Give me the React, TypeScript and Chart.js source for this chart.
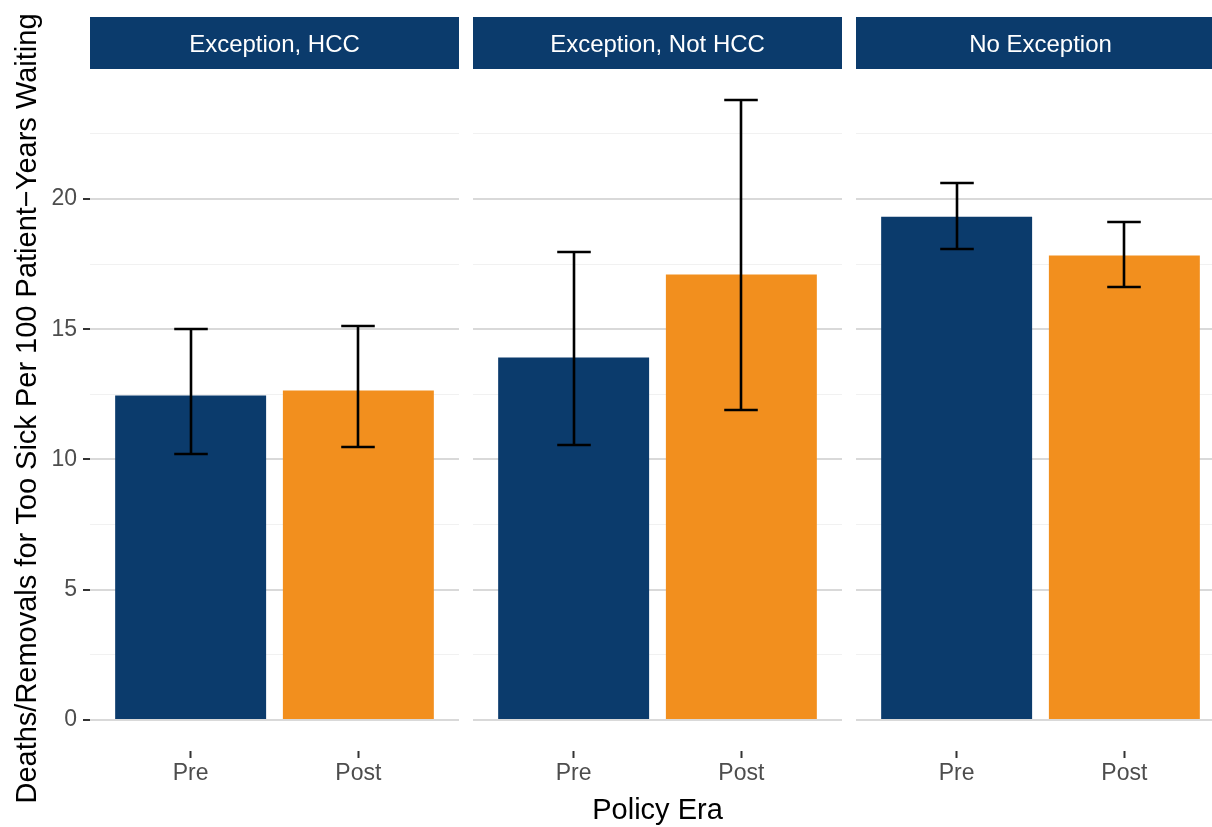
import React, { useEffect, useRef } from "react";
import { Chart, registerables } from "chart.js";

Chart.register(...registerables);

// ---- data ----
const facetLabels = ["Exception, HCC", "Exception, Not HCC", "No Exception"];
const eraLabels = ["Pre", "Post"];
const hccRates = [12.46, 12.65];
const hccLower = [10.22, 10.47];
const hccUpper = [15.02, 15.14];
const notHccRates = [13.92, 17.1];
const notHccLower = [10.57, 11.91];
const notHccUpper = [17.98, 23.8];
const noExcRates = [19.32, 17.83];
const noExcLower = [18.07, 16.63];
const noExcUpper = [20.61, 19.12];
const majorTicks = [0, 5, 10, 15, 20];
const minorTicks = [2.5, 7.5, 12.5, 17.5, 22.5];

const rates = [hccRates, notHccRates, noExcRates];
const lowers = [hccLower, notHccLower, noExcLower];
const uppers = [hccUpper, notHccUpper, noExcUpper];

const yTitle = "Deaths/Removals for Too Sick Per 100 Patient\u2212Years Waiting";
const xTitle = "Policy Era";

// ---- style ----
const NAVY = "#0B3B6C";
const ORANGE = "#F28F1E";
const eraColors = [NAVY, ORANGE];
const FONT = "'Liberation Sans', Arial, Helvetica, sans-serif";
const CAP_WIDTH = 0.2;

const maxUpper = Math.max(...uppers.flat());
const yMax = maxUpper * 1.05;
const yMin = -maxUpper * 0.05;

const allYTicks = [...majorTicks, ...minorTicks].sort((a, b) => a - b);
const isMajor = (v: number | undefined) => v !== undefined && majorTicks.includes(v);

type PanelProps = { idx: number; left: number; width: number; showY: boolean; showXTitle: boolean };

function Panel({ idx, left, width, showY, showXTitle }: PanelProps) {
  const ref = useRef<HTMLCanvasElement>(null);

  useEffect(() => {
    if (!ref.current) return;

    const stripPlugin = {
      id: "strip",
      afterDraw(chart: any) {
        const { ctx, chartArea } = chart;
        ctx.save();
        ctx.fillStyle = NAVY;
        ctx.fillRect(chartArea.left, 17, chartArea.right - chartArea.left, 52);
        ctx.fillStyle = "#FFFFFF";
        ctx.font = `24px ${FONT}`;
        ctx.textAlign = "center";
        ctx.textBaseline = "alphabetic";
        ctx.fillText(facetLabels[idx], (chartArea.left + chartArea.right) / 2, 51.5);
        if (showY) {
          ctx.fillStyle = "#000000";
          ctx.font = `29px ${FONT}`;
          ctx.translate(36, (chartArea.top + chartArea.bottom) / 2 - 1.5);
          ctx.rotate(-Math.PI / 2);
          ctx.textAlign = "center";
          ctx.textBaseline = "alphabetic";
          ctx.fillText(yTitle, 0, 0);
        }
        ctx.restore();
      },
    };

    const errorPlugin = {
      id: "errorbars",
      afterDatasetsDraw(chart: any) {
        const xs = chart.scales.x;
        const ys = chart.scales.y;
        const ctx = chart.ctx;
        ctx.save();
        ctx.strokeStyle = "#000000";
        ctx.lineWidth = 2.6;
        const half = Math.abs(xs.getPixelForValue(1 + CAP_WIDTH / 2) - xs.getPixelForValue(1));
        lowers[idx].forEach((lo, i) => {
          const x = Math.round(xs.getPixelForValue(i + 1));
          const yl = Math.round(ys.getPixelForValue(lo));
          const yu = Math.round(ys.getPixelForValue(uppers[idx][i]));
          ctx.beginPath();
          ctx.moveTo(x, yl);
          ctx.lineTo(x, yu);
          ctx.moveTo(x - half, yl);
          ctx.lineTo(x + half, yl);
          ctx.moveTo(x - half, yu);
          ctx.lineTo(x + half, yu);
          ctx.stroke();
        });
        ctx.restore();
      },
    };

    const chart = new Chart(ref.current, {
      type: "bar",
      data: {
        datasets: [
          {
            data: eraLabels.map((_, i) => ({ x: i + 1, y: rates[idx][i] })),
            backgroundColor: eraColors,
            borderWidth: 0,
            categoryPercentage: 0.9,
            barPercentage: 1,
          } as any,
        ],
      },
      options: {
        responsive: false,
        animation: false,
        devicePixelRatio: 1,
        layout: { padding: { top: 69, left: 0, right: 0, bottom: 0 }, autoPadding: false } as any,
        plugins: {
          legend: { display: false },
          tooltip: { enabled: false },
          title: { display: false },
        },
        scales: {
          x: {
            type: "linear",
            min: 0.4,
            max: 2.6,
            bounds: "data",
            offset: false,
            border: { display: false },
            grid: {
              display: true,
              drawOnChartArea: false,
              drawTicks: true,
              tickLength: 7,
              tickColor: "#333333",
              tickWidth: 2,
              offset: false,
            },
            afterBuildTicks: (s: any) => {
              s.ticks = eraLabels.map((_, i) => ({ value: i + 1 }));
            },
            afterFit: (s: any) => {
              s.height = 76;
            },
            ticks: {
              autoSkip: false,
              maxRotation: 0,
              padding: 2,
              color: "#4D4D4D",
              font: { family: FONT, size: 23, lineHeight: 1.2 },
              callback: (v: any) => eraLabels[Math.round(Number(v)) - 1] ?? "",
            },
            title: {
              display: showXTitle,
              text: xTitle,
              color: "#000000",
              font: { family: FONT, size: 29, lineHeight: 1.1 },
              padding: { top: 0, bottom: 0 },
            },
          } as any,
          y: {
            type: "linear",
            min: yMin,
            max: yMax,
            bounds: "data",
            border: { display: false },
            grid: {
              color: (c: any) => (isMajor(c.tick?.value) ? "#D9D9D9" : "#F1F1F1"),
              lineWidth: (c: any) => (isMajor(c.tick?.value) ? 2 : 1),
              drawTicks: showY,
              tickLength: 7,
              tickColor: (c: any) => (isMajor(c.tick?.value) ? "#333333" : "rgba(0,0,0,0)"),
              tickWidth: 2,
            },
            afterBuildTicks: (s: any) => {
              s.ticks = allYTicks.map((v) => ({ value: v }));
            },
            afterFit: (s: any) => {
              s.width = showY ? 90 : 0;
            },
            ticks: {
              display: showY,
              autoSkip: false,
              padding: 6,
              color: "#4D4D4D",
              font: { family: FONT, size: 23, lineHeight: 1.2 },
              callback: (v: any) => (isMajor(Number(v)) ? String(v) : ""),
            },
            title: { display: false },
          } as any,
        },
      },
      plugins: [stripPlugin, errorPlugin],
    });

    return () => chart.destroy();
  }, [idx, showY, showXTitle]);

  return (
    <canvas
      ref={ref}
      width={width}
      height={827}
      style={{ position: "absolute", left, top: 0, width, height: 827, display: "block" }}
    />
  );
}

const panelPlacement = [
  { left: 0, width: 459, showY: true, showXTitle: false },
  { left: 473, width: 369, showY: false, showXTitle: true },
  { left: 856, width: 369, showY: false, showXTitle: false },
];

export default function App() {
  return (
    <div
      style={{
        position: "absolute",
        left: 0,
        top: 0,
        width: 1212,
        height: 827,
        overflow: "hidden",
        background: "#FFFFFF",
      }}
    >
      {panelPlacement.map((p, i) => (
        <Panel key={i} idx={i} left={p.left} width={p.width} showY={p.showY} showXTitle={p.showXTitle} />
      ))}
    </div>
  );
}
